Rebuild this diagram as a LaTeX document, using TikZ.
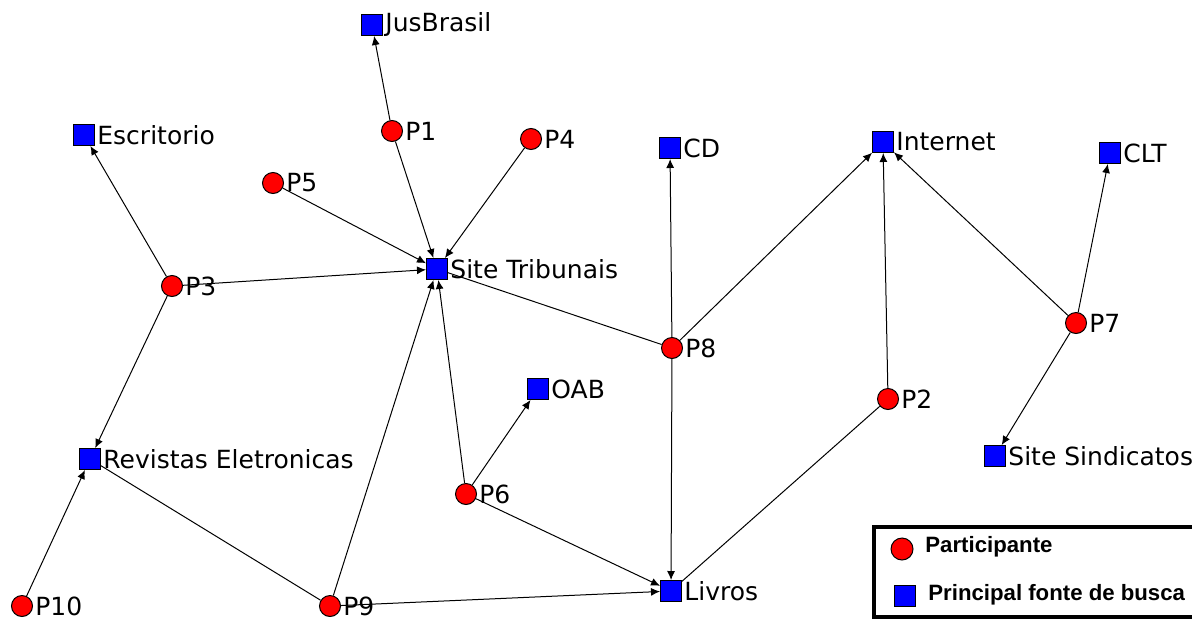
\documentclass[tikz,border=0pt]{standalone}
\usepackage{fontspec}
\setmainfont{DejaVu Sans}
\newfontfamily\legfont{Liberation Sans}
\usetikzlibrary{arrows.meta}
\definecolor{azul}{RGB}{0,0,255}
\definecolor{vermelho}{RGB}{255,0,0}

\begin{document}
\begin{tikzpicture}[x=0.5pt,y=-0.5pt,
  part/.style={circle, fill=vermelho, draw=black, line width=0.5pt, inner sep=0pt, minimum size=10.5pt},
  fonte/.style={rectangle, fill=azul, draw=black, line width=0.5pt, inner sep=0pt, minimum size=10.5pt},
  rot/.style={font=\fontsize{12.5}{14}\selectfont, inner sep=1pt},
  leg/.style={font=\legfont\fontsize{11.1}{13}\selectfont\bfseries, anchor=west, inner sep=0pt},
  seta/.style={-{Latex[length=4.5pt,width=4pt]}, line width=0.5pt},
  liga/.style={line width=0.5pt}]
\useasboundingbox (0,0) rectangle (1192,621);
\clip (0,0) rectangle (1192,621);

% fontes de busca
\node [fonte, label={[rot]right:JusBrasil}] (jus) at (372,25) {};
\node [fonte, label={[rot]right:Escritorio}] (esc) at (84,135) {};
\node [fonte, label={[rot]right:CD}] (cd) at (670,148) {};
\node [fonte, label={[rot]right:Internet}] (int) at (883,142) {};
\node [fonte, label={[rot]right:CLT}] (clt) at (1110,153) {};
\node [fonte, label={[rot]right:Site Tribunais}] (trib) at (437,269) {};
\node [fonte, label={[rot]right:OAB}] (oab) at (538,389) {};
\node [fonte, label={[rot]right:Revistas Eletronicas}] (rev) at (90,459) {};
\node [fonte, label={[rot]right:Site Sindicatos}] (sind) at (995,456) {};
\node [fonte, label={[rot]right:Livros}] (liv) at (671,591) {};

% participantes
\node [part, label={[rot]right:P1}] (p1) at (392,131) {};
\node [part, label={[rot]right:P2}] (p2) at (888,399) {};
\node [part, label={[rot]right:P3}] (p3) at (172,286) {};
\node [part, label={[rot]right:P4}] (p4) at (531,139) {};
\node [part, label={[rot]right:P5}] (p5) at (273,183) {};
\node [part, label={[rot]right:P6}] (p6) at (466,494) {};
\node [part, label={[rot]right:P7}] (p7) at (1076,323) {};
\node [part, label={[rot]right:P8}] (p8) at (672,348) {};
\node [part, label={[rot]right:P9}] (p9) at (330,606) {};
\node [part, label={[rot]right:P10}] (p10) at (22,606) {};

% ligacoes
\draw [seta] (p1) -- (jus);
\draw [seta] (p1) -- (trib);
\draw [seta] (p4) -- (trib);
\draw [seta] (p5) -- (trib);
\draw [seta] (p3) -- (esc);
\draw [seta] (p3) -- (trib);
\draw [seta] (p3) -- (rev);
\draw [liga] (p8) -- (trib);
\draw [seta] (p8) -- (cd);
\draw [seta] (p8) -- (int);
\draw [seta] (p8) -- (liv);
\draw [seta] (p2) -- (int);
\draw [liga] (p2) -- (liv);
\draw [seta] (p7) -- (int);
\draw [seta] (p7) -- (clt);
\draw [seta] (p7) -- (sind);
\draw [seta] (p6) -- (oab);
\draw [seta] (p6) -- (trib);
\draw [seta] (p6) -- (liv);
\draw [seta] (p9) -- (trib);
\draw [seta] (p9) -- (liv);
\draw [liga] (p9) -- (rev);
\draw [seta] (p10) -- (rev);

% legenda
\draw [line width=2pt, fill=white] (874,527) rectangle (1240,617);
\node [part, minimum size=11pt] (legp) at (902,549) {};
\node [fonte, minimum size=10.5pt] (legf) at (905,596) {};
\node [leg] (legpt) at (925,547) {Participante};
\node [leg] (legft) at (928,595) {Principal fonte de busca};
\end{tikzpicture}
\end{document}
